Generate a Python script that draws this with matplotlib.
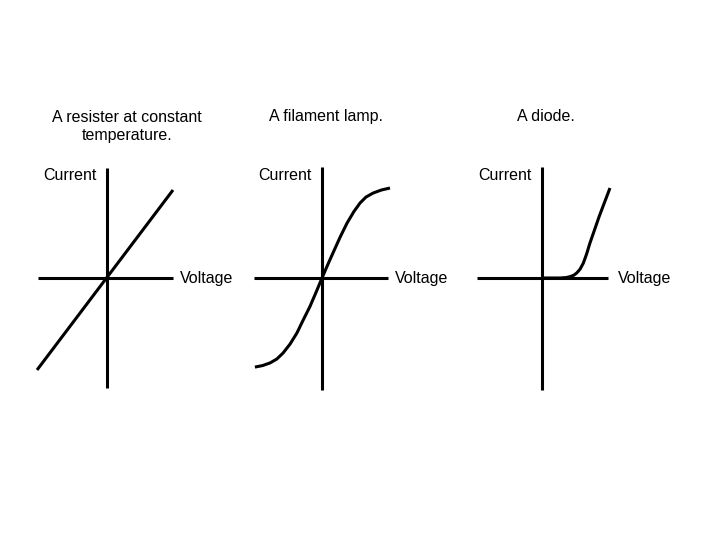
import matplotlib.pyplot as plt

plt.rcParams['font.family'] = ['Liberation Sans', 'DejaVu Sans']

# titles of the three sketches
titles = ['A resister at constant\ntemperature.', 'A filament lamp.', 'A diode.']

# resistor: straight line through the origin
res_v = [-3.18, 3.0]
res_i = [-4.18, 4.0]

# filament lamp: S-shaped curve
lamp_v = [-3.05, -2.7, -2.36, -2.05, -1.77, -1.45, -1.14, -0.85, -0.55, -0.27, 0.0,
          0.25, 0.5, 0.82, 1.14, 1.45, 1.73, 2.0, 2.32, 2.7, 3.09]
lamp_i = [-4.05, -3.98, -3.86, -3.68, -3.41, -3.0, -2.5, -1.9, -1.3, -0.65, 0.0,
          0.58, 1.14, 1.85, 2.5, 3.02, 3.41, 3.68, 3.86, 4.0, 4.09]

# diode: flat, then sharp rise
diode_v = [0.0, 0.5, 0.82, 1.1, 1.27, 1.45, 1.58, 1.73, 1.88, 2.03, 2.18, 2.6, 3.09]
diode_i = [0.0, 0.0, 0.0, 0.02, 0.06, 0.13, 0.23, 0.4, 0.68, 1.1, 1.59, 2.8, 4.09]

# extents of the drawn axes: (v_min, v_max, i_min, i_max)
axis_ext = [(-3.14, 3.0, -5.0, 5.0),
            (-3.09, 3.0, -5.09, 5.05),
            (-2.95, 3.0, -5.09, 5.05)]

curves = [(res_v, res_i), (lamp_v, lamp_i), (diode_v, diode_i)]

origins_px = [107, 322, 542]   # x pixel of each origin
origin_y_px = 278
px_per_unit = 22
W, H = 720, 540

fig = plt.figure(figsize=(7.2, 5.4), dpi=100)
fig.patch.set_facecolor('white')

lw = 2.2
fs = 11.5
voltage_x = [3.3, 3.3, 3.45]
title_x = [0.9, 0.18, 0.18]

for k in range(3):
    ox = origins_px[k]
    left = (ox - 4 * px_per_unit) / W
    bottom = (H - origin_y_px - 6 * px_per_unit) / H
    ax = fig.add_axes([left, bottom, 8 * px_per_unit / W, 12 * px_per_unit / H])
    ax.set_xlim(-4, 4)
    ax.set_ylim(-6, 6)
    ax.axis('off')

    v0, v1, i0, i1 = axis_ext[k]
    ax.plot([v0, v1], [0, 0], color='black', lw=lw, solid_capstyle='butt')
    ax.plot([0, 0], [i0, i1], color='black', lw=lw, solid_capstyle='butt')

    v, i = curves[k]
    ax.plot(v, i, color='black', lw=lw, solid_capstyle='butt',
            solid_joinstyle='round')

    ax.text(-2.9, 4.68, 'Current', fontsize=fs, ha='left', va='center')
    ax.text(voltage_x[k], 0, 'Voltage', fontsize=fs, ha='left', va='center')
    if '\n' in titles[k]:
        ax.text(title_x[k], 6.88, titles[k], fontsize=fs, ha='center',
                va='center', linespacing=1.28)
    else:
        ax.text(title_x[k], 7.32, titles[k], fontsize=fs, ha='center',
                va='center')

fig.savefig('out.png', dpi=100, facecolor='white')
